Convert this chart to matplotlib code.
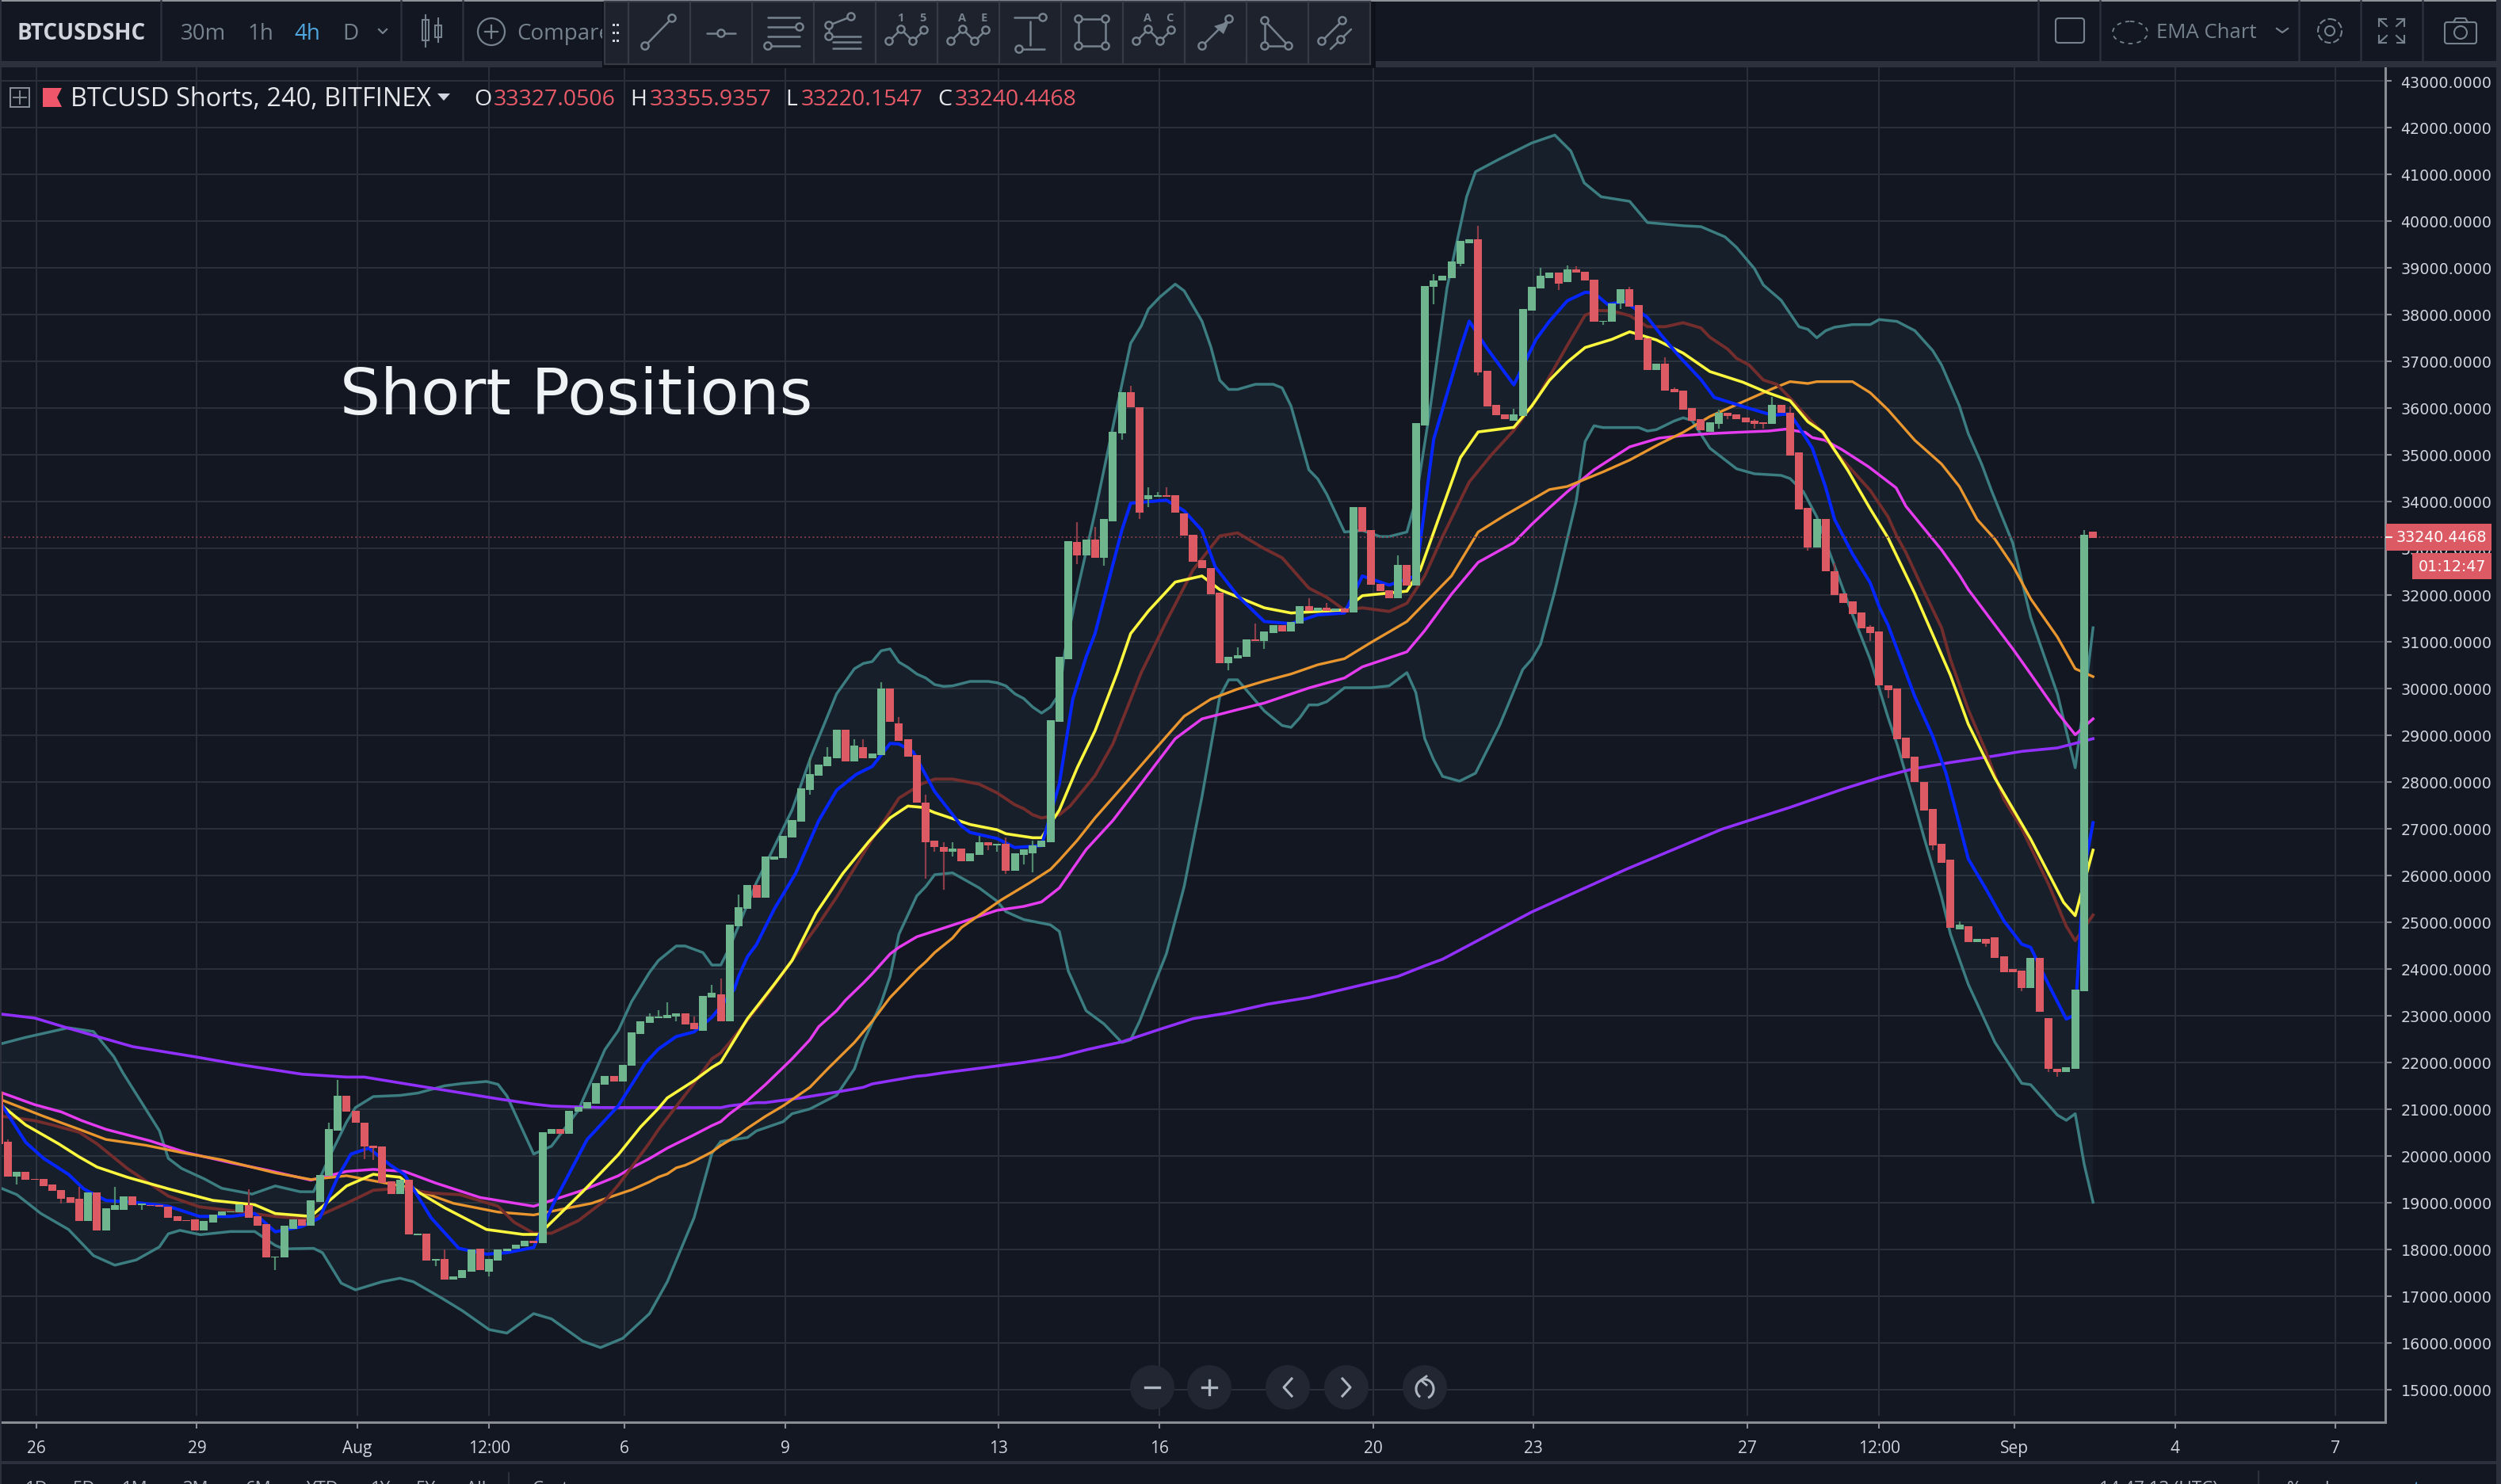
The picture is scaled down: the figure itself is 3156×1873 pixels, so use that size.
import matplotlib.pyplot as plt
import matplotlib.patches as patches
import numpy as np

opens = [21376, 20302, 19563, 19656, 19513, 19513, 19389, 19277, 19116, 19079, 18613, 19215, 18408, 18849, 18849, 19141, 18955, 18955, 18948, 18911,
    18706, 18632, 18638, 18408, 18582, 18725, 18787, 18787, 18948, 18706, 18539, 17825, 17825, 18439, 18638, 18514, 19017, 19576, 20538, 21283,
    20972, 20712, 20227, 20203, 19451, 19190, 19489, 18303, 18334, 17769, 17793, 17359, 17390, 17527, 18023, 17527, 17762, 17961, 18011, 18067,
    18191, 18135, 20476, 20569, 20476, 20941, 21022, 21115, 21531, 21718, 21593, 21935, 22609, 22847, 22948, 22948, 22982, 23050, 22847, 22683,
    23389, 23457, 22880, 24914, 25287, 25796, 25525, 26338, 26372, 26813, 27152, 27830, 28135, 28338, 28508, 29118, 28440, 28745, 28508, 28576,
    30000, 29254, 28915, 28576, 27559, 26745, 26610, 26508, 26576, 26304, 26440, 26711, 26643, 26677, 26101, 26440, 26474, 26610, 26711, 29288,
    30622, 33127, 32855, 33192, 32790, 33568, 35463, 36346, 36009, 34049, 34100, 34140, 34140, 33737, 33296, 32750, 32582, 32043, 30550, 30648,
    30680, 31057, 31018, 31187, 31362, 31226, 31394, 31764, 31667, 31732, 31667, 31706, 31634, 33874, 33393, 32244, 32108, 31939, 32647, 32206,
    35632, 38585, 38721, 38786, 39091, 39533, 39604, 36788, 36073, 35872, 35736, 35833, 38079, 38553, 38786, 38890, 38689, 38962, 38923, 38754,
    37845, 37845, 38237, 38542, 38203, 37491, 36813, 36949, 36407, 36373, 36000, 35762, 35491, 35661, 35898, 35864, 35796, 35729, 35695, 35661,
    36068, 35898, 35051, 33864, 33017, 33627, 32508, 32034, 31864, 31627, 31322, 31220, 30067, 29999, 28949, 28542, 27999, 27423, 26677, 26338,
    24847, 24914, 24575, 24643, 24677, 24270, 23999, 23965, 23592, 24236, 22948, 21863, 21796, 21863, 23530, 33355]
closes = [20246, 19563, 19656, 19495, 19495, 19358, 19253, 19079, 19004, 18613, 19215, 18408, 18874, 18948, 19141, 18955, 18986, 18936, 18911, 18675,
    18613, 18613, 18408, 18601, 18737, 18812, 18812, 18973, 18675, 18514, 17825, 17849, 18501, 18638, 18514, 19048, 19588, 20575, 21283, 20948,
    20712, 20203, 20165, 19420, 19190, 19489, 18315, 18334, 17762, 17793, 17359, 17421, 17557, 17992, 17557, 17793, 17992, 18023, 18098, 18191,
    18135, 20507, 20569, 20476, 20972, 21047, 21146, 21550, 21718, 21593, 21953, 22636, 22880, 22982, 22982, 23016, 23050, 22813, 22711, 23423,
    23491, 22880, 24948, 25321, 25796, 25525, 26406, 26406, 26847, 27186, 27864, 28169, 28372, 28542, 29118, 28440, 28779, 28508, 28610, 30000,
    29288, 28881, 28542, 27559, 26711, 26610, 26508, 26576, 26304, 26474, 26711, 26643, 26677, 26101, 26474, 26553, 26643, 26745, 29321, 30677,
    33160, 32855, 33192, 32790, 33633, 35496, 36346, 36009, 33770, 34140, 34140, 34100, 33770, 33263, 32718, 32582, 32011, 30550, 30680, 30713,
    31057, 31018, 31226, 31362, 31226, 31427, 31764, 31667, 31732, 31667, 31706, 31634, 33874, 33361, 32212, 32076, 31939, 32647, 32206, 35671,
    38618, 38721, 38825, 39130, 39572, 39604, 36755, 36041, 35846, 35769, 35872, 38111, 38585, 38825, 38890, 38657, 38962, 38890, 38721, 37845,
    37871, 38237, 38542, 38169, 37457, 36813, 36949, 36373, 36339, 35966, 35729, 35525, 35695, 35898, 35830, 35762, 35695, 35661, 35661, 36068,
    35898, 34983, 33830, 33017, 33627, 32508, 32000, 31830, 31593, 31288, 31186, 30067, 29966, 28915, 28508, 27999, 27389, 26643, 26270, 24881,
    24948, 24575, 24643, 24542, 24236, 23931, 23931, 23592, 24236, 23084, 21863, 21796, 21897, 23558, 33288, 33220]
highs = {0: 20351, 8: 19330, 12: 19330, 27: 19284, 36: 20712, 37: 21624, 49: 17992, 72: 23050, 73: 23118, 74: 23287, 77: 22980, 79: 23660, 80: 23796,
    82: 25592, 90: 28530, 92: 28745, 95: 28915, 96: 28915, 98: 30135, 100: 29389, 103: 27728, 105: 26711, 106: 26711, 109: 26847, 112: 26813, 115: 26745,
    120: 33562, 122: 33458, 126: 36482, 128: 34308, 129: 34211, 130: 34308, 138: 30882, 140: 31388, 146: 31933, 148: 31829, 156: 32855, 160: 38864,
    165: 39903, 169: 35976, 172: 38994, 175: 39059, 176: 39026, 182: 38600, 186: 37085, 187: 36440, 192: 35970, 196: 35760, 198: 36237, 200: 36030,
    205: 32680, 206: 31970, 209: 31360, 219: 25020, 233: 33389}
lows = {1: 19390, 6: 18990, 15: 18849, 30: 17557, 40: 19929, 41: 19917, 48: 17651, 54: 17421, 75: 22880, 90: 27728, 103: 25931, 104: 26508, 105: 25694,
    106: 26406, 110: 26542, 111: 26508, 112: 26033, 114: 26237, 115: 26067, 120: 32654, 123: 32621, 125: 35327, 127: 33633, 128: 33886, 137: 30395,
    141: 30849, 160: 38215, 163: 39026, 165: 36690, 174: 38520, 179: 37780, 181: 38110, 192: 35560, 193: 35760, 196: 35560, 197: 35560, 202: 32950,
    209: 31010, 211: 29796, 216: 26540, 222: 24470, 226: 23520, 229: 21790, 230: 21690}

blue_x = [-0.6, 2, 4, 6.8, 8.5, 11, 14.5, 18, 21.5, 25, 27.7, 30, 33, 35, 37, 38.5, 40.5, 43, 44.5, 47.5, 50.6, 53.7, 56, 59, 61.4, 65, 68.5, 70, 71.5, 73, 75, 77, 79, 81.5, 82, 83, 84, 86, 88.4, 91, 93, 95.2, 97, 99, 100, 101.6, 104, 107, 108, 111, 113, 116, 118, 119.5, 121, 122, 125, 126, 128, 130, 132, 134, 135.5, 138, 141, 144, 147, 150, 152, 155, 158, 160, 163, 164, 166, 167.5, 169, 171.5, 173, 175, 177, 178, 179.5, 181.5, 184, 185.5, 187.5, 190, 191.5, 195, 198, 200, 201, 202.5, 204, 205, 207, 209, 210, 211, 212, 214, 216, 217.5, 218.5, 220, 222, 224, 226, 227, 229, 231, 232, 233, 234]
blue_y = [21066, 20290, 19948, 19606, 19296, 19048, 19000, 18924, 18706, 18706, 18768, 18377, 18489, 18675, 19544, 20041, 20165, 19793, 19606, 18675, 18023, 17899, 17930, 18042, 19048, 20352, 21072, 21524, 21976, 22287, 22553, 22654, 22965, 23558, 23841, 24265, 24519, 25282, 26044, 27175, 27824, 28163, 28333, 28824, 28813, 28643, 27796, 27061, 26920, 26790, 26598, 26638, 27965, 29773, 30677, 31174, 33380, 33964, 33997, 34029, 33802, 33380, 32601, 31985, 31433, 31388, 31576, 31615, 32407, 32212, 32407, 35327, 37274, 37858, 37274, 36885, 36495, 37469, 37858, 38294, 38475, 38463, 38220, 38277, 37938, 37570, 37118, 36610, 36226, 36017, 35847, 35875, 35593, 35141, 34300, 33615, 32881, 32259, 31751, 31355, 30847, 29830, 28982, 28191, 27457, 26355, 25705, 25027, 24530, 24462, 23671, 22926, 23022, 26101, 27129]

yellow_x = [-0.6, 2, 5.7, 8, 10, 13.4, 18, 23, 27.7, 30, 34, 38, 41, 44, 46, 49, 53.7, 57.8, 59.6, 64.5, 68.5, 71, 73, 74, 77, 79, 80, 81, 83, 86, 88, 90.7, 93.7, 96.6, 99, 101, 102.6, 104, 108, 111, 112, 115, 116, 118, 120, 122, 124.5, 126, 128, 131, 134, 136, 141, 144, 150, 152, 157, 158.5, 163, 165, 169, 171, 173, 175, 177, 180, 182, 185, 188, 191, 194.7, 197.5, 200, 202, 203.7, 206.5, 209, 211, 214, 218, 220, 223, 227, 230.7, 232, 234]
yellow_y = [21066, 20662, 20258, 19979, 19762, 19544, 19296, 19048, 18955, 18768, 18706, 19358, 19607, 19544, 19234, 18892, 18427, 18321, 18321, 19234, 20027, 20620, 21016, 21242, 21609, 21892, 22005, 22315, 22937, 23672, 24180, 25197, 26044, 26723, 27231, 27485, 27457, 27344, 27090, 26977, 26892, 26807, 26807, 27400, 28304, 29095, 30343, 31174, 31660, 32277, 32407, 32115, 31725, 31615, 31680, 31985, 32082, 32537, 34938, 35489, 35587, 36041, 36593, 36982, 37294, 37469, 37631, 37457, 37175, 36780, 36553, 36327, 36158, 35706, 35480, 34661, 33841, 33220, 32033, 30282, 29237, 28079, 26779, 25423, 25140, 26542]

brown_x = [-0.6, 3, 5, 8, 10, 13.4, 18, 21.5, 25, 30, 34, 38, 41, 44, 47.6, 50.7, 55, 56.8, 59, 61, 64, 67, 68.5, 72, 73, 77, 79, 80, 81, 83, 85, 88, 91, 93, 97, 100, 102.6, 104, 106, 109, 111, 113, 114, 115, 116, 118, 119.2, 122, 124, 127.2, 130, 133, 136, 138, 141, 143, 146, 148, 150, 152, 155, 157, 159, 161, 164, 166.5, 169, 171.5, 175, 177, 178.5, 180, 182, 184, 186, 188, 190, 191, 193, 194, 195.4, 197, 198.5, 200, 202, 203.5, 205, 209, 211, 212, 213, 215, 217, 218, 220, 222, 224, 226, 227, 229, 231, 232, 234]
brown_y = [20848, 20755, 20662, 20507, 20258, 19731, 19141, 18911, 18830, 18706, 18644, 18986, 19265, 19308, 19203, 19172, 18924, 18582, 18346, 18346, 18613, 19048, 19377, 20281, 20564, 21553, 22078, 22202, 22428, 22909, 23389, 24180, 24971, 25536, 26779, 27655, 27965, 28062, 28062, 27954, 27768, 27513, 27429, 27299, 27231, 27299, 27485, 28135, 28813, 30343, 31433, 32537, 33263, 33328, 32991, 32796, 32147, 31952, 31680, 31725, 31648, 31823, 32407, 33250, 34419, 35003, 35522, 36171, 37339, 37988, 38085, 38079, 37977, 37740, 37740, 37825, 37712, 37514, 37260, 37062, 36921, 36599, 36508, 36215, 35791, 35508, 35085, 34237, 33672, 33248, 32909, 32090, 31299, 30621, 29548, 28643, 27626, 27005, 26610, 25818, 24914, 24604, 25152]

orange_x = [-0.6, 4, 8, 11, 15.5, 19.5, 24, 30, 34, 38, 41.5, 45, 50, 55, 59, 63, 65.5, 68.5, 70, 72, 73, 74, 75, 76, 77, 79, 80, 82, 83, 85, 87, 90, 91, 92, 95, 97, 99, 102, 103, 104, 106, 107, 111.5, 114.7, 117, 118, 120, 122, 125, 129, 132, 135, 138, 141, 144, 147, 150, 153, 157, 162, 165, 168, 173, 175, 179, 182, 185.3, 188, 191, 195, 198, 200, 202, 203, 207, 209, 211, 214, 217, 219, 221, 223, 225, 227, 230, 232, 234]
orange_y = [21190, 20848, 20569, 20352, 20227, 20072, 19917, 19638, 19495, 19576, 19451, 19327, 18986, 18799, 18737, 18892, 18986, 19180, 19276, 19445, 19547, 19615, 19745, 19801, 19886, 20084, 20225, 20451, 20592, 20846, 21072, 21468, 21666, 21863, 22428, 22880, 23389, 23982, 24152, 24350, 24660, 24886, 25480, 25847, 26129, 26327, 26751, 27231, 27881, 28756, 29406, 29773, 29988, 30158, 30310, 30508, 30638, 30988, 31433, 32407, 33348, 33705, 34256, 34322, 34633, 34887, 35226, 35480, 35819, 36158, 36412, 36565, 36525, 36565, 36565, 36327, 35960, 35310, 34802, 34322, 33615, 33192, 32627, 31920, 31101, 30423, 30254]

magenta_x = [-0.6, 3, 6, 8.3, 11, 16, 20, 25, 29, 34, 38, 41, 44.5, 48, 53, 59, 64.5, 68.5, 70, 72, 74, 77, 79, 80, 81, 82, 83, 85, 87, 88, 90, 91, 93, 94, 96, 97, 99, 100, 102, 107, 111, 114, 116, 118, 121, 124, 131, 134, 138, 141, 146, 150, 152, 157, 159, 162, 165, 169, 171, 173, 175, 178, 182, 185.3, 188, 191, 194, 197.6, 199.5, 201.7, 202.5, 203.9, 205.8, 208.8, 211.9, 213, 217, 219, 220, 222, 225, 227, 230, 232, 234]
magenta_y = [21345, 21097, 20941, 20755, 20569, 20320, 20072, 19855, 19700, 19482, 19669, 19712, 19669, 19420, 19110, 18923, 19265, 19575, 19745, 19943, 20168, 20451, 20649, 20733, 20903, 21044, 21185, 21524, 21892, 22078, 22485, 22767, 23106, 23332, 23700, 23897, 24321, 24463, 24688, 24999, 25254, 25338, 25434, 25734, 26553, 27175, 28926, 29350, 29547, 29689, 30011, 30225, 30463, 30784, 31238, 32017, 32699, 33121, 33510, 33867, 34209, 34678, 35169, 35356, 35412, 35452, 35480, 35508, 35548, 35480, 35367, 35311, 35113, 34745, 34293, 33898, 32966, 32429, 32118, 31610, 30847, 30310, 29491, 29011, 29350]

purple_x = [-1, 3, 7, 14, 21, 26, 33, 38, 40, 45, 50, 55, 59, 61, 66.5, 80, 81, 84, 85, 89, 93, 96, 97, 102, 103, 105, 110, 114, 118, 121, 125, 129.3, 133, 137, 141.4, 146, 151, 156, 159, 161, 171, 181.7, 192.4, 200, 206, 210, 213.7, 218, 223, 226, 230, 234]
purple_y = [23040, 22950, 22720, 22338, 22121, 21953, 21749, 21687, 21687, 21531, 21376, 21221, 21109, 21066, 21035, 21033, 21072, 21140, 21140, 21242, 21366, 21468, 21541, 21705, 21722, 21779, 21900, 22000, 22120, 22270, 22440, 22711, 22937, 23061, 23248, 23389, 23615, 23841, 24067, 24208, 25218, 26140, 26993, 27457, 27852, 28090, 28276, 28417, 28559, 28655, 28728, 28926]

upper_x = [-1, 2, 6.8, 9.6, 11.9, 12.9, 17, 18, 19.5, 22, 24, 27.4, 30, 32.8, 34.3, 36.4, 38, 39, 41, 44, 46, 49, 51, 53.7, 55, 56, 59, 61, 64, 67, 68.5, 70, 72, 73, 75, 76, 78, 79, 80, 81, 84, 85.7, 88, 90.1, 93, 95, 96, 97, 98, 99, 100, 101, 102, 103, 104, 105, 106, 108, 110, 111, 112, 113, 114, 115, 116, 117, 118, 118.6, 120, 122, 125, 126, 127.2, 128, 129.3, 131, 132, 134, 135, 136, 137, 138, 140, 142, 143, 144, 146, 147, 148, 150, 152, 154, 155, 157, 158, 159.6, 161.5, 163.7, 164.7, 167.4, 171, 173.6, 175.4, 176.9, 178.8, 182, 184, 186, 188, 190, 192.7, 194, 196, 197, 199, 201, 202, 203, 204, 205, 207, 209, 210, 212, 214, 216, 217, 219, 220, 221.5, 222.6, 225, 227, 230, 232, 233, 234]
upper_y = [22388, 22537, 22742, 22661, 22121, 21780, 20538, 19948, 19731, 19513, 19308, 19184, 19358, 19234, 19234, 20103, 20724, 21035, 21270, 21295, 21345, 21500, 21550, 21593, 21531, 21283, 20041, 20209, 20972, 22276, 22683, 23304, 23926, 24180, 24491, 24491, 24350, 24084, 24084, 24462, 25847, 26496, 27400, 28530, 29886, 30423, 30536, 30576, 30807, 30847, 30564, 30451, 30310, 30225, 30084, 30045, 30056, 30152, 30152, 30124, 30056, 29886, 29785, 29604, 29474, 29604, 29886, 30784, 32082, 33770, 36495, 37385, 37761, 38118, 38378, 38650, 38507, 37858, 37307, 36593, 36398, 36398, 36508, 36508, 36430, 36041, 34678, 34483, 34159, 33348, 33380, 33250, 33250, 33348, 34029, 35976, 38572, 40519, 41055, 41328, 41669, 41840, 41498, 40816, 40519, 40422, 39968, 39935, 39900, 39880, 39661, 39435, 38983, 38633, 38305, 37740, 37683, 37503, 37655, 37729, 37785, 37785, 37893, 37853, 37655, 37231, 36921, 36045, 35452, 34802, 34237, 33107, 31525, 29887, 28304, 29720, 31299]

lower_x = [-1, 1, 3.7, 6.8, 9.6, 12, 14.4, 17, 18, 19.3, 21.6, 25, 27.7, 30, 31, 34.3, 35.3, 37.4, 39, 42, 44, 45.5, 48.6, 51, 54, 56, 59, 61, 64.5, 66.5, 69, 72, 74, 77, 79, 80, 83, 84, 87, 88, 90, 93, 95, 96, 98, 99, 100, 102, 103, 104, 106, 109, 111, 112, 114, 117, 118, 119, 121, 123, 125, 126, 127, 130, 132, 134, 136, 137, 138, 141, 143, 144, 145, 146, 147, 148, 150, 153, 155, 157, 158, 159, 160, 161, 162.9, 164.7, 167.4, 170, 171, 172, 173.6, 176, 177, 178, 179, 183, 184, 185, 187, 188, 189, 191, 194, 196, 199, 200, 201.5, 203, 204.6, 207, 209, 210, 211, 212, 214, 215, 217, 218, 220, 223, 226, 227, 230, 231, 232, 233, 234]
lower_y = [19327, 19172, 18768, 18427, 17868, 17663, 17775, 18054, 18334, 18408, 18315, 18383, 18383, 18085, 18011, 18023, 17930, 17278, 17135, 17309, 17384, 17309, 16968, 16688, 16285, 16210, 16626, 16514, 16037, 15900, 16098, 16626, 17309, 18675, 20055, 20310, 20394, 20536, 20733, 20903, 21005, 21299, 21863, 22428, 23276, 23841, 24745, 25564, 25762, 26016, 26056, 25734, 25451, 25225, 25056, 24943, 24802, 23954, 23106, 22824, 22428, 22485, 22880, 24321, 25762, 27683, 29830, 30186, 30186, 29519, 29208, 29169, 29378, 29649, 29649, 29717, 30016, 30016, 30056, 30339, 29915, 28926, 28474, 28120, 28017, 28187, 29211, 30406, 30622, 30946, 32082, 34011, 35282, 35621, 35582, 35582, 35508, 35537, 35723, 35791, 35734, 35141, 34700, 34593, 34559, 34491, 34209, 33672, 32824, 31581, 30621, 29999, 29378, 28813, 27513, 26835, 25536, 24745, 23671, 22428, 21553, 21524, 20875, 20762, 20903, 19829, 19010]

date_ticks = [3.2, 21.2, 39.2, 54, 69.2, 87.2, 111.2, 129.2, 153.2, 171.2, 195.2, 210, 225.2, 243.2, 261.2]
date_labels = ['26', '29', 'Aug', '12:00', '6', '9', '13', '16', '20', '23', '27', '12:00', 'Sep', '4', '7']
price_ticks = np.arange(15000, 43001, 1000)
last_price = 33240.4468

plt.rcParams['font.family'] = ['Open Sans', 'DejaVu Sans']
W, H = 3156, 1874
BG = '#131722'
GRID = '#2a2e39'
ICON = '#76838f'
UP = '#6fb58e'
DOWN = '#dc5a64'

def to_price(y):
    return 43000 - (y - 103) * 16.95

def draw_candles(ax):
    idx = np.arange(-1, len(opens) - 1)
    o = np.array(opens)
    c = np.array(closes)
    colors = [UP if b >= a else DOWN for a, b in zip(o, c)]
    for i, hi in highs.items():
        ax.vlines(i, max(o[i + 1], c[i + 1]), hi, color='#4f8a6c' if c[i + 1] >= o[i + 1] else '#8c3d47', lw=1.6, zorder=6)
    for i, lo in lows.items():
        ax.vlines(i, min(o[i + 1], c[i + 1]), lo, color='#4f8a6c' if c[i + 1] >= o[i + 1] else '#8c3d47', lw=1.6, zorder=6)
    ax.bar(idx, np.abs(c - o), bottom=np.minimum(o, c), width=0.89, color=colors, linewidth=0, zorder=7)

def tool_cell(ov, cx, lines=(), circles=(), texts=()):
    for (x1, y1, x2, y2) in lines:
        ov.plot([cx + x1, cx + x2], [y1, y2], color=ICON, lw=1.8, solid_capstyle='round', zorder=12)
    for (x, y) in circles:
        ov.add_patch(patches.Circle((cx + x, y), 4.6, fc='#1e222d', ec=ICON, lw=1.8, zorder=13))
    for (x, y, s) in texts:
        ov.text(cx + x, y, s, color=ICON, fontsize=10.5, fontweight='bold', ha='center', va='center', zorder=13)

fig, ax = plt.subplots(figsize=(W / 100, H / 100), dpi=100, facecolor=BG)
plt.subplots_adjust(left=0, right=3010 / W, top=1 - 86 / H, bottom=1 - 1796 / H)

ax.set_facecolor(BG)
ax.set_xlim(-0.889, 266.8)
ax.set_ylim(to_price(1796), to_price(86))

# сетка и полоса Боллинджера
ax.hlines(price_ticks, -0.889, 266.6, color=GRID, lw=1.5, zorder=1)
ax.vlines(date_ticks, to_price(1788), to_price(86), color=GRID, lw=1.5, zorder=1)
ax.fill(upper_x + lower_x[::-1], upper_y + lower_y[::-1], color='#3c7d80', alpha=0.085, lw=0, zorder=2)
ax.plot(upper_x, upper_y, color='#3b7d80', lw=2.5, zorder=3)
ax.plot(lower_x, lower_y, color='#3b7d80', lw=2.5, zorder=3)

ax.plot(purple_x, purple_y, color='#9230ff', lw=2.6, zorder=4)
ax.plot(magenta_x, magenta_y, color='#e63cf0', lw=2.5, zorder=4)
ax.plot(orange_x, orange_y, color='#ea962f', lw=2.4, zorder=4)
ax.plot(brown_x, brown_y, color='#722d2c', lw=2.8, zorder=5)
ax.plot(yellow_x, yellow_y, color='#fdf83f', lw=2.6, zorder=5)
ax.plot(blue_x, blue_y, color='#0626ff', lw=2.9, zorder=5)
draw_candles(ax)
ax.axhline(last_price, color='#7c3a46', lw=1.4, ls=':', zorder=5)

ax.yaxis.tick_right()
ax.set_yticks(price_ticks)
ax.set_yticklabels(['%.4f' % p for p in price_ticks], family='DejaVu Sans', fontsize=13.7, color='#d1d4dc')
ax.set_xticks(date_ticks)
ax.set_xticklabels(date_labels, fontsize=15, color='#d1d4dc')
ax.tick_params(axis='y', length=6, width=1.5, color='#8a8d94', pad=8)
ax.tick_params(axis='x', length=6, width=1.5, color='#8a8d94', pad=10)
for name in ['top', 'left']:
    ax.spines[name].set_visible(False)
for name in ['bottom', 'right']:
    ax.spines[name].set_color('#8a8d94')
    ax.spines[name].set_linewidth(2.2)

# верхняя панель, нижняя панель и кнопки рисуем в пикселях
ov = fig.add_axes([0, 0, 1, 1], facecolor='none')
ov.set_xlim(0, W)
ov.set_ylim(H, 0)
ov.axis('off')
ov.add_patch(patches.Rectangle((0, 0), W, 2.5, fc='#8f9299', lw=0))
ov.add_patch(patches.Rectangle((0, 78), W, 8, fc='#2c303d', lw=0))
ov.add_patch(patches.Rectangle((0, 1845), W, 4, fc='#2c303d', lw=0))
ov.add_patch(patches.Rectangle((3150, 0), 6, H, fc='#2c303d', lw=0))
ov.add_patch(patches.Rectangle((0, 0), 2, H, fc='#2c303d', lw=0))
for x in [203.5, 506, 584, 2572, 2650, 2901, 2979, 3057]:
    ov.plot([x, x], [2, 78], color='#2c303d', lw=1.8)

ov.text(429, 501, 'Short Positions', color='#f0f3f5', fontsize=58, family='DejaVu Sans', va='center', ha='left')
ov.text(22, 43, 'BTCUSDSHC', color='#d1d4dc', fontsize=20, fontweight='bold', va='center')
for x, s, col in [(256, '30m', ICON), (329, '1h', ICON), (388, '4h', '#4fa8e0'), (442, 'D', ICON)]:
    ov.text(x, 43, s, color=col, fontsize=20, ha='center', va='center')
ov.plot([478, 483, 488], [38, 43, 38], color=ICON, lw=1.6)
ov.plot([537, 537], [20, 60], color=ICON, lw=1.5)
ov.add_patch(patches.Rectangle((533, 26), 8, 26, fc='none', ec=ICON, lw=1.5))
ov.plot([553, 553], [24, 54], color=ICON, lw=1.5)
ov.add_patch(patches.Rectangle((549, 33), 8, 15, fc='none', ec=ICON, lw=1.5))
ov.add_patch(patches.Circle((620, 41), 17, fc='none', ec=ICON, lw=1.6))
ov.plot([612, 628], [41, 41], color=ICON, lw=1.6)
ov.plot([620, 620], [33, 49], color=ICON, lw=1.6)
ov.text(652, 43, 'Compare', color=ICON, fontsize=20, va='center')

# плавающая панель инструментов
ov.add_patch(patches.Rectangle((760, 3), 976, 84, fc='#0e1119', lw=0, zorder=9))
ov.add_patch(patches.Rectangle((763, 2.5), 966, 79, fc='#1e222d', ec='#363a45', lw=1.6, zorder=10))
for x in [793 + 78 * k for k in range(12)]:
    ov.plot([x, x], [3, 81], color='#363a45', lw=1.6, zorder=11)
for y in [32, 42, 52]:
    for x in [775, 780]:
        ov.add_patch(patches.Rectangle((x - 1.5, y - 1.5), 3, 3, fc='#d1d4dc', lw=0, zorder=11))
tool_cell(ov, 832, [(-18, 59, 16, 24)], [(-18, 59), (16, 24)])
tool_cell(ov, 910, [(-18, 43, 18, 43)], [(0, 43)])
tool_cell(ov, 988, [(-19, 23, 21, 23), (-19, 35, 21, 35), (-19, 47, 21, 47), (-19, 59, 21, 59)], [(21, 35), (-19, 59)])
tool_cell(ov, 1066, [(-20, 33, 8, 22), (-20, 33, -20, 46), (-20, 47, 20, 47), (-15, 54, 20, 54), (-15, 62, 20, 62)], [(8, 22), (-20, 33), (-20, 47)])
zig = [(-22, 53, -7, 38), (-7, 38, 8, 53), (8, 53, 22, 39)]
zig_dots = [(-22, 53), (-7, 38), (8, 53), (22, 39)]
tool_cell(ov, 1144, zig, zig_dots, [(-8, 23, '1'), (20, 23, '5')])
tool_cell(ov, 1222, zig, zig_dots, [(-8, 23, 'A'), (20, 23, 'E')])
tool_cell(ov, 1300, [(-20, 23, 14, 23), (0, 28, 0, 58), (-12, 63, 18, 63)], [(16, 23), (-14, 63)])
tool_cell(ov, 1378, [(-17, 25, 17, 25), (-17, 59, 17, 59), (-17, 25, -17, 59), (17, 25, 17, 59)], [(-17, 25), (17, 25), (-17, 59), (17, 59)])
tool_cell(ov, 1456, zig, zig_dots, [(-8, 23, 'A'), (20, 23, 'C')])
tool_cell(ov, 1534, [(-17, 59, 17, 25)], [(-17, 59), (17, 25)])
ov.add_patch(patches.Polygon([[1551, 28], [1532, 34], [1544, 44]], fc=ICON, lw=0, zorder=12))
tool_cell(ov, 1612, [(-16, 27, -16, 59), (-16, 27, 14, 59), (-16, 59, 14, 59)], [(-16, 27), (-16, 59), (14, 59)])
tool_cell(ov, 1690, [(-22, 53, 4, 27), (-11, 63, 15, 38)], [(-22, 53), (4, 27), (2, 51)])

# правая часть верхней панели
ov.add_patch(patches.FancyBboxPatch((2595, 25), 34, 29, boxstyle='round,pad=1,rounding_size=4', fc='none', ec=ICON, lw=1.5))
ov.add_patch(patches.Ellipse((2688, 42), 44, 28, fc='none', ec=ICON, lw=1.3, ls=(0, (3, 3))))
ov.text(2721, 42, 'EMA Chart', color=ICON, fontsize=18.5, va='center')
ov.plot([2873, 2880, 2887], [37, 42, 37], color=ICON, lw=1.6)
ov.add_patch(patches.Circle((2940, 40), 15, fc='none', ec=ICON, lw=1.5, ls=(0, (4, 1.5))))
ov.add_patch(patches.Circle((2940, 40), 6, fc='none', ec=ICON, lw=1.5))
for sx, sy in [(-1, -1), (1, -1), (-1, 1), (1, 1)]:
    ov.plot([3018 + sx * 6, 3018 + sx * 16], [40 + sy * 6, 40 + sy * 15], color=ICON, lw=1.5)
    ov.plot([3018 + sx * 16, 3018 + sx * 7], [40 + sy * 15, 40 + sy * 15], color=ICON, lw=1.5)
    ov.plot([3018 + sx * 16, 3018 + sx * 16], [40 + sy * 15, 40 + sy * 6], color=ICON, lw=1.5)
ov.add_patch(patches.FancyBboxPatch((3085, 29), 40, 27, boxstyle='round,pad=0,rounding_size=3', fc='none', ec=ICON, lw=1.5))
ov.add_patch(patches.Circle((3105, 42), 8, fc='none', ec=ICON, lw=1.5))
ov.plot([3096, 3099, 3111, 3114], [29, 24, 24, 29], color=ICON, lw=1.5)

# строка легенды
ov.add_patch(patches.Rectangle((13, 112), 24, 24, fc='none', ec='#8b9199', lw=1.4))
ov.plot([17, 33], [124, 124], color='#8b9199', lw=1.3)
ov.plot([25, 25], [116, 132], color='#8b9199', lw=1.3)
ov.add_patch(patches.Polygon([[54, 112], [78, 112], [72, 124], [78, 136], [54, 136]], fc='#f0566a', lw=0))
ov.text(89, 126, 'BTCUSD Shorts, 240, BITFINEX', color='#e4e6ea', fontsize=23.4, va='center')
ov.add_patch(patches.Polygon([[552, 119], [568, 119], [560, 128]], fc='#d1d4dc', lw=0))
for x, s in [(598, 'O'), (795, 'H'), (991, 'L'), (1183, 'C')]:
    ov.text(x, 126, s, color='#e4e6ea', fontsize=20.5, va='center')
for x, s in [(623, '33327.0506'), (820, '33355.9357'), (1011, '33220.1547'), (1205, '33240.4468')]:
    ov.text(x, 126, s, color='#e85a68', fontsize=20.5, va='center')

# ярлыки цены
ov.add_patch(patches.Rectangle((3011, 662), 133, 34, fc='#dc5a64', lw=0))
ov.plot([3011, 3018], [679, 679], color='#f2f2f2', lw=1.5)
ov.text(3024, 679, '33240.4468', color='#ffffff', fontsize=13.7, family='DejaVu Sans', va='center')
ov.add_patch(patches.Rectangle((3044, 699), 100, 33, fc='#dc5a64', lw=0))
ov.text(3137, 716, '01:12:47', color='#ffffff', fontsize=13.7, family='DejaVu Sans', va='center', ha='right')

# кнопки внизу
for x in [1454, 1526, 1625, 1699, 1798]:
    ov.add_patch(patches.Circle((x, 1752), 28, fc='#212632', lw=0, zorder=8))
ov.plot([1445, 1463], [1752, 1752], color='#aeb6bf', lw=2.4, zorder=9)
ov.plot([1517, 1535], [1752, 1752], color='#aeb6bf', lw=2.4, zorder=9)
ov.plot([1526, 1526], [1743, 1761], color='#aeb6bf', lw=2.4, zorder=9)
ov.plot([1630, 1620, 1630], [1741, 1752, 1763], color='#aeb6bf', lw=2.2, zorder=9)
ov.plot([1694, 1704, 1694], [1741, 1752, 1763], color='#aeb6bf', lw=2.2, zorder=9)
ov.add_patch(patches.Arc((1798, 1754), 22, 24, theta1=-240, theta2=70, ec='#aeb6bf', lw=2.2, zorder=9))
ov.plot([1800, 1793, 1800], [1738, 1743, 1749], color='#aeb6bf', lw=2, zorder=9)

# подвал, обрезан краем картинки
for x, s in [(32, '1D'), (92, '5D'), (154, '1M'), (230, '3M'), (310, '6M'), (386, 'YTD'), (468, '1Y'), (525, '5Y'), (588, 'All'), (672, 'Custom'),
             (2649, '14:47:13 (UTC)'), (2886, '%'), (2933, 'log')]:
    ov.text(x, 1880, s, color='#aab0b8', fontsize=16, va='center', clip_on=True)
ov.text(3020, 1880, 'auto', color='#4fa8e0', fontsize=16, va='center', clip_on=True)
ov.plot([642, 642], [1860, H], color='#2c303d', lw=1.5)
ov.plot([2850, 2850], [1858, H], color='#2c303d', lw=1.5)

fig.savefig('out.png', dpi=100, facecolor=BG)
